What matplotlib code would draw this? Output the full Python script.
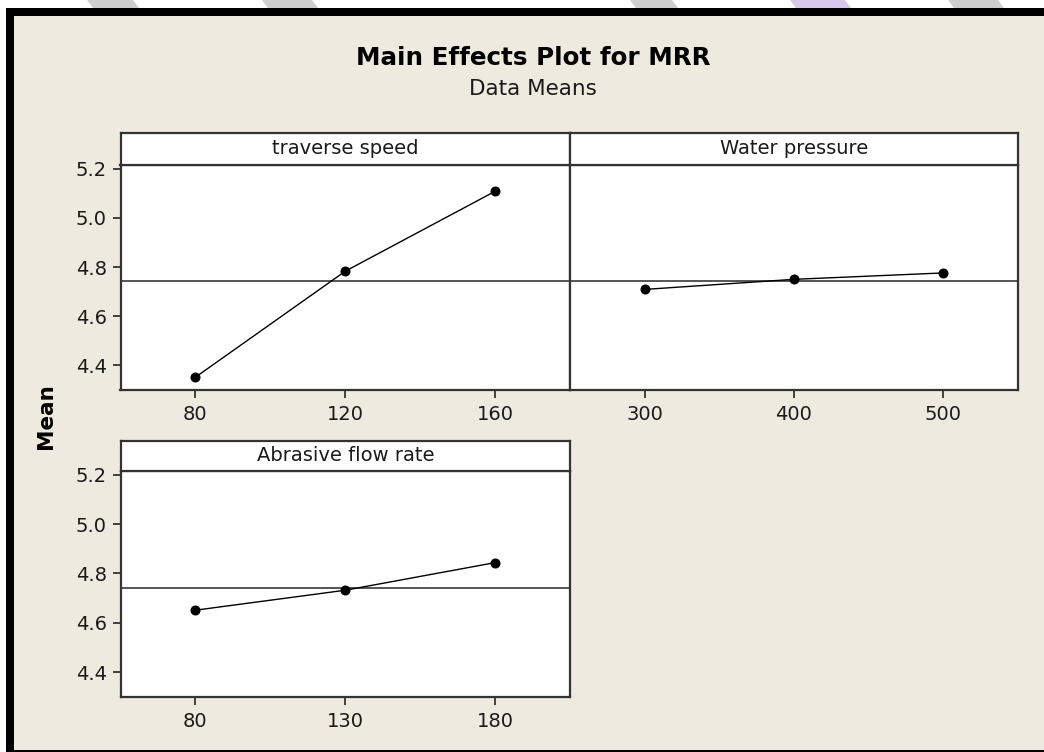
import matplotlib
matplotlib.use("Agg")
import matplotlib.pyplot as plt
from matplotlib.patches import Rectangle, Polygon

# ---- data ----
factors = ["traverse speed", "Water pressure", "Abrasive flow rate"]
levels_speed = [80, 120, 160]
means_speed = [4.352, 4.783, 5.108]
levels_pressure = [300, 400, 500]
means_pressure = [4.709, 4.750, 4.776]
levels_flow = [80, 130, 180]
means_flow = [4.651, 4.732, 4.844]
grand_mean = 4.743
y_ticks = [4.4, 4.6, 4.8, 5.0, 5.2]
y_tick_labels = ["4.4", "4.6", "4.8", "5.0", "5.2"]
title = "Main Effects Plot for MRR"
subtitle = "Data Means"
ylabel = "Mean"

W, H = 1044, 752
fig = plt.figure(figsize=(W / 100, H / 100), dpi=100)
fig.patch.set_facecolor("white")

def px(x0, y0, x1, y1):
    return [x0 / W, 1 - y1 / H, (x1 - x0) / W, (y1 - y0) / H]

# faint watermark pieces in the top white strip
for (xa, xb, col) in [(87, 133, "#cfcfcf"), (262, 312, "#cfcfcf"), (630, 672, "#cfcfcf"),
                      (790, 845, "#d9c8ec"), (948, 998, "#cfcfcf")]:
    fig.patches.append(Polygon([(xa / W, 1.0), (xb / W, 1.0), ((xb + 6) / W, 1 - 8 / H),
                                ((xa + 6) / W, 1 - 8 / H)], closed=True,
                               transform=fig.transFigure, facecolor=col,
                               edgecolor="none", zorder=-11))

# border and background
fig.patches.append(Rectangle((6 / W, 0), 1, 1 - 8 / H, transform=fig.transFigure,
                             facecolor="black", edgecolor="none", zorder=-10))
fig.patches.append(Rectangle((14 / W, 2 / H), 1, 1 - 18 / H, transform=fig.transFigure,
                             facecolor="#EEEAE0", edgecolor="none", zorder=-9))

FRAME = "#333333"
TXT = "#1a1a1a"
FONT = "DejaVu Sans"

panels = [
    (levels_speed, means_speed, factors[0], (60, 180), (120.5, 164.5, 570, 390), 133.3, True),
    (levels_pressure, means_pressure, factors[1], (250, 550), (570, 164.5, 1017.5, 390), 133.3, False),
    (levels_flow, means_flow, factors[2], (55, 205), (120.5, 470.7, 570, 696.7), 440.7, True),
]

for lv, mv, name, xlim, (x0, y0, x1, y1), stop, show_y in panels:
    ax = fig.add_axes(px(x0, y0, x1, y1))
    ax.set_facecolor("white")
    ax.axhline(grand_mean, color="#555555", lw=1.4, zorder=1)
    ax.plot(lv, mv, color="black", lw=1.0, marker="o", markersize=6.2,
            markerfacecolor="black", markeredgecolor="black", zorder=3)
    ax.set_xlim(*xlim)
    ax.set_ylim(4.30, 5.217)
    ax.set_xticks(lv)
    ax.set_xticklabels([str(v) for v in lv], fontsize=14, color=TXT, family=FONT)
    ax.set_yticks(y_ticks)
    if show_y:
        ax.set_yticklabels(y_tick_labels, fontsize=14, color=TXT, family=FONT)
        ax.tick_params(axis="y", length=6, width=1.3, color=FRAME, pad=4)
    else:
        ax.tick_params(axis="y", left=False, labelleft=False)
    ax.tick_params(axis="x", length=6, width=1.3, color=FRAME, pad=5)
    for s in ax.spines.values():
        s.set_color(FRAME)
        s.set_linewidth(1.6)

    sax = fig.add_axes(px(x0, stop, x1, y0))
    sax.set_facecolor("white")
    sax.set_xticks([])
    sax.set_yticks([])
    for s in sax.spines.values():
        s.set_color(FRAME)
        s.set_linewidth(1.6)
    sax.text(0.5, 0.5, name, transform=sax.transAxes, ha="center", va="center",
             fontsize=14, color=TXT, family=FONT)

fig.text(533 / W, 1 - 58 / H, title, ha="center", va="center", fontsize=17.7,
         fontweight="bold", color="black", family=FONT)
fig.text(533 / W, 1 - 89 / H, subtitle, ha="center", va="center", fontsize=15.5,
         color=TXT, family=FONT)
fig.text(46 / W, 1 - 416 / H, ylabel, ha="center", va="center", rotation=90,
         fontsize=15.5, fontweight="bold", color="black", family=FONT)

fig.savefig("out.png", dpi=100, facecolor=fig.get_facecolor())
